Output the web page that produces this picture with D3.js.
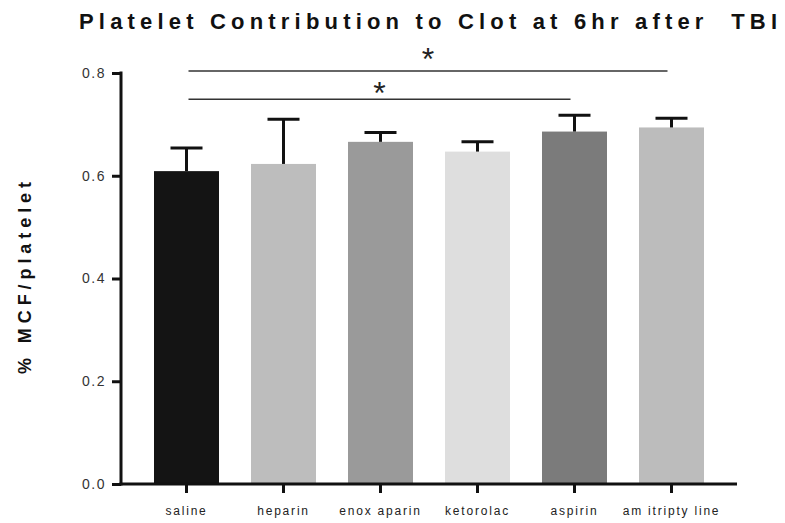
<!DOCTYPE html>
<html>
<head>
<meta charset="utf-8">
<script src="https://cdn.jsdelivr.net/npm/d3@7"></script>
<style>
  html, body { margin: 0; padding: 0; background: #fff; }
  svg { display: block; font-family: "Liberation Sans", Arial, sans-serif; }
</style>
</head>
<body>
<svg id="chart" width="785" height="523"></svg>
<script>
// Treatment groups and measured values (mean and upper error)
const categories = ["saline", "heparin", "enox aparin", "ketorolac", "aspirin", "am itripty line"];
const means = [0.609, 0.623, 0.666, 0.647, 0.686, 0.694];
const errors = [0.045, 0.087, 0.018, 0.019, 0.032, 0.018];
const barColors = ["#141414", "#bdbdbd", "#9a9a9a", "#dedede", "#7b7b7b", "#bcbcbc"];
const yTicks = [0.0, 0.2, 0.4, 0.6, 0.8];
// Significance brackets: from group index to group index, at a given level
const sigFrom = [0, 0];
const sigTo = [5, 4];
const sigLevel = [0.804, 0.749];

const svg = d3.select("#chart");

const y = d3.scaleLinear().domain([0, 0.8]).range([484, 73]);
const x = d3.scaleBand()
  .domain(categories)
  .range([138, 720])
  .paddingInner(0.33)
  .paddingOuter(0.165);

// Title
svg.append("text")
  .attr("x", 79).attr("y", 29)
  .attr("font-size", 22).attr("font-weight", "bold")
  .attr("textLength", 698).attr("lengthAdjust", "spacing")
  .style("white-space", "pre")
  .attr("fill", "#111")
  .text("Platelet Contribution to Clot at 6hr after  TBI");

// Y axis label
svg.append("text")
  .attr("transform", "translate(31,278) rotate(-90)")
  .attr("text-anchor", "middle")
  .attr("font-size", 18).attr("font-weight", "bold")
  .attr("textLength", 192).attr("lengthAdjust", "spacing")
  .attr("fill", "#111")
  .text("% MCF/platelet");

// Bars
svg.append("g").selectAll("rect")
  .data(categories)
  .join("rect")
  .attr("x", d => x(d))
  .attr("width", x.bandwidth())
  .attr("y", (d, i) => y(means[i]))
  .attr("height", (d, i) => y(0) - y(means[i]))
  .attr("fill", (d, i) => barColors[i]);

// Error bars (upper only)
const eg = svg.append("g").attr("stroke", "#111").attr("stroke-width", 3);
categories.forEach((c, i) => {
  const cx = x(c) + x.bandwidth() / 2;
  eg.append("line")
    .attr("x1", cx).attr("x2", cx)
    .attr("y1", y(means[i])).attr("y2", y(means[i] + errors[i]));
  eg.append("line")
    .attr("x1", cx - 16).attr("x2", cx + 16)
    .attr("y1", y(means[i] + errors[i])).attr("y2", y(means[i] + errors[i]));
});

// Y axis
const yAxis = d3.axisLeft(y)
  .tickValues(yTicks)
  .tickFormat(d3.format(".1f"))
  .tickSize(9)
  .tickPadding(6);
const yg = svg.append("g").attr("transform", "translate(121,0)").call(yAxis);
yg.select(".domain").remove();
yg.append("line").attr("x1", 0).attr("x2", 0).attr("y1", y(0.8) - 1.5).attr("y2", y(0) + 1.5)
  .attr("stroke", "#111").attr("stroke-width", 3);
yg.selectAll(".tick line").attr("stroke", "#111").attr("stroke-width", 3);
yg.selectAll(".tick text")
  .attr("font-size", 14).attr("fill", "#333")
  .attr("letter-spacing", 1.5)
  .attr("font-family", "Liberation Sans, Arial, sans-serif");

// X axis
const xAxis = d3.axisBottom(x).tickSize(9).tickPadding(13);
const xg = svg.append("g").attr("transform", `translate(0,${y(0)})`).call(xAxis);
xg.select(".domain").remove();
xg.append("line").attr("x1", 119.5).attr("x2", 737).attr("y1", 0).attr("y2", 0)
  .attr("stroke", "#111").attr("stroke-width", 3);
xg.selectAll(".tick line").attr("stroke", "#111").attr("stroke-width", 3);
xg.selectAll(".tick text")
  .attr("font-size", 12).attr("fill", "#222")
  .attr("letter-spacing", 1.8)
  .attr("font-family", "Liberation Sans, Arial, sans-serif");

// Significance lines with asterisks
const starGap = [-1, 5];
const sg = svg.append("g");
sigFrom.forEach((f, k) => {
  const x1 = x(categories[f]) + x.bandwidth() / 2 + 2;
  const x2 = x(categories[sigTo[k]]) + x.bandwidth() / 2 - 4;
  const yy = y(sigLevel[k]);
  sg.append("line")
    .attr("x1", x1).attr("x2", x2).attr("y1", yy).attr("y2", yy)
    .attr("stroke", "#333").attr("stroke-width", 1.4);
  sg.append("text")
    .attr("x", (x1 + x2) / 2).attr("y", yy + starGap[k])
    .attr("text-anchor", "middle")
    .attr("font-size", 32).attr("fill", "#222")
    .text("*");
});
</script>
</body>
</html>
